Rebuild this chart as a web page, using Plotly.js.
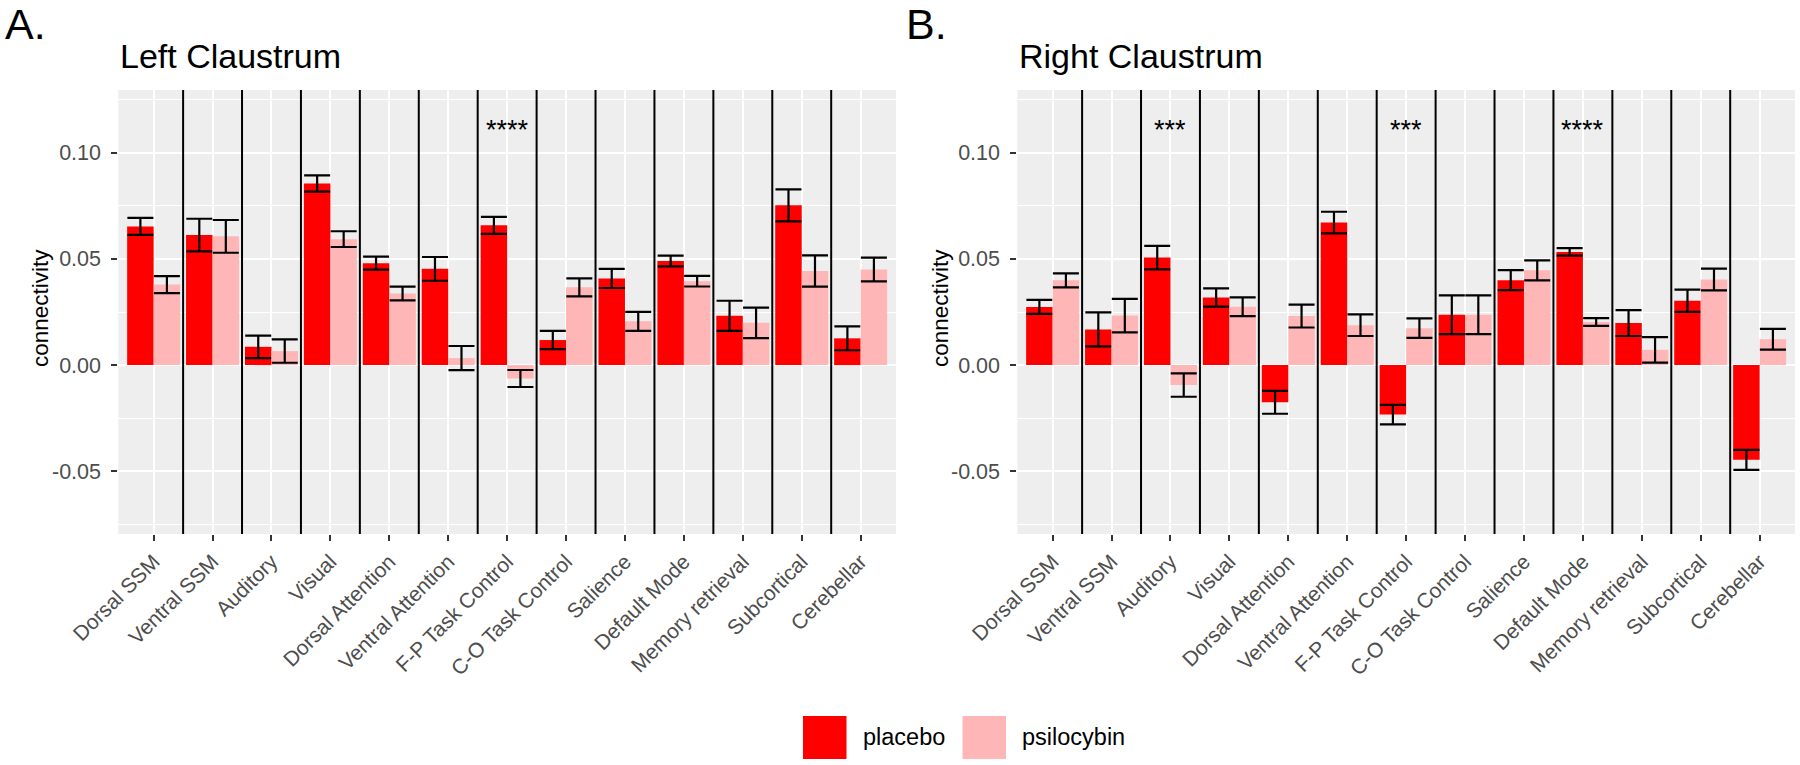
<!DOCTYPE html>
<html>
<head>
<meta charset="utf-8">
<script src="https://cdn.plot.ly/plotly-3.0.1.min.js"></script>
<style>html,body{margin:0;padding:0;background:#fff;}#chart{width:1800px;height:765px;}</style>
</head>
<body>
<div id="chart"></div>
<script>
// ---------- data ----------
const categories = ["Dorsal SSM","Ventral SSM","Auditory","Visual","Dorsal Attention","Ventral Attention","F-P Task Control","C-O Task Control","Salience","Default Mode","Memory retrieval","Subcortical","Cerebellar"];

const leftPlacebo      = [0.0653, 0.0612, 0.0086, 0.0855, 0.0480, 0.0453, 0.0658, 0.0118, 0.0408, 0.0490, 0.0232, 0.0752, 0.0126];
const leftPlaceboSE    = [0.0040, 0.0077, 0.0053, 0.0038, 0.0031, 0.0056, 0.0040, 0.0043, 0.0045, 0.0025, 0.0071, 0.0075, 0.0056];
const leftPsilocybin   = [0.0379, 0.0606, 0.0066, 0.0593, 0.0337, 0.0033, -0.0063, 0.0366, 0.0206, 0.0395, 0.0199, 0.0443, 0.0450];
const leftPsilocybinSE = [0.0040, 0.0077, 0.0055, 0.0037, 0.0032, 0.0057, 0.0040, 0.0042, 0.0045, 0.0025, 0.0072, 0.0074, 0.0056];

const rightPlacebo      = [0.0274, 0.0168, 0.0506, 0.0318, -0.0175, 0.0671, -0.0233, 0.0237, 0.0400, 0.0533, 0.0198, 0.0303, -0.0446];
const rightPlaceboSE    = [0.0033, 0.0080, 0.0055, 0.0043, 0.0054, 0.0051, 0.0046, 0.0091, 0.0047, 0.0018, 0.0061, 0.0052, 0.0047];
const rightPsilocybin   = [0.0399, 0.0233, -0.0094, 0.0275, 0.0231, 0.0188, 0.0174, 0.0237, 0.0446, 0.0203, 0.0072, 0.0403, 0.0122];
const rightPsilocybinSE = [0.0033, 0.0079, 0.0055, 0.0044, 0.0054, 0.0051, 0.0046, 0.0091, 0.0047, 0.0018, 0.0060, 0.0051, 0.0049];

const leftStars  = ["","","","","","","****","","","","","",""];
const rightStars = ["","","***","","","","***","","","****","","",""];

const groupNames = ["placebo","psilocybin"];
const yTickVals  = [-0.05, 0, 0.05, 0.10];
const yTickText  = ["-0.05","0.00","0.05","0.10"];
const yMinorVals = [-0.075, -0.025, 0.025, 0.075, 0.125];
const yTitle = "connectivity";

// ---------- style ----------
const FONT = "Liberation Sans, Arial, Helvetica, sans-serif";
const colors = {placebo: "#FF0000", psilocybin: "#FFB6B6"};
const W = 1800, H = 765, MT = 90, MB = 231;
const plotBottom = H - MB, plotH = H - MT - MB;
const py = p => (plotBottom - p) / plotH;   // pixel y -> paper y
const px = p => p / W;                       // pixel x -> paper x

function barTrace(name, vals, se, xa, ya) {
  return {
    type: "bar", name: name, x: categories, y: vals,
    xaxis: xa, yaxis: ya, offsetgroup: name, showlegend: false,
    marker: {color: colors[name], line: {width: 0}},
    error_y: {type: "data", array: se, visible: true, color: "#000", thickness: 2.2, width: 13}
  };
}

const data = [
  barTrace("placebo", leftPlacebo, leftPlaceboSE, "x", "y"),
  barTrace("psilocybin", leftPsilocybin, leftPsilocybinSE, "x", "y"),
  barTrace("placebo", rightPlacebo, rightPlaceboSE, "x2", "y2"),
  barTrace("psilocybin", rightPsilocybin, rightPsilocybinSE, "x2", "y2")
];

function xAxis(domain, anchor) {
  return {
    domain: domain, anchor: anchor, type: "category", range: [-0.6, categories.length - 0.4],
    tickangle: -45, ticks: "outside", ticklen: 6, tickwidth: 2, tickcolor: "#333333",
    tickfont: {family: FONT, size: 21, color: "#4D4D4D"},
    showgrid: true, gridcolor: "#FFFFFF", gridwidth: 2,
    zeroline: false, showline: false, fixedrange: true
  };
}
function yAxis(anchor) {
  return {
    domain: [0, 1], anchor: anchor, range: [-0.0795, 0.1295],
    tickmode: "array", tickvals: yTickVals, ticktext: yTickText,
    ticks: "outside", ticklen: 6, tickwidth: 2, tickcolor: "#333333",
    ticklabelstandoff: 6,
    tickfont: {family: FONT, size: 21.5, color: "#4D4D4D"},
    showgrid: true, gridcolor: "#FFFFFF", gridwidth: 2,
    minor: {tickmode: "array", tickvals: yMinorVals, showgrid: true, gridcolor: "#FFFFFF", gridwidth: 1, ticks: ""},
    zeroline: false, showline: false, fixedrange: true
  };
}

// separator lines between categories
const shapes = [];
[["x","y"],["x2","y2"]].forEach(([xa, ya]) => {
  for (let i = 0; i < categories.length - 1; i++) {
    shapes.push({type: "line", xref: xa, yref: ya + " domain", x0: i + 0.5, x1: i + 0.5, y0: 0, y1: 1,
                 line: {color: "#000", width: 2}, layer: "above"});
  }
});

const annotations = [];
// significance stars
[[leftStars, "x", "y"], [rightStars, "x2", "y2"]].forEach(([stars, xa, ya]) => {
  stars.forEach((s, i) => {
    if (s) annotations.push({xref: xa, yref: ya, x: categories[i], y: 0.1105, text: s, showarrow: false,
      xanchor: "center", yanchor: "middle", font: {family: FONT, size: 27, color: "#000"}});
  });
});
// y-axis titles (rotated)
[40, 940].forEach(xp => {
  annotations.push({xref: "paper", yref: "paper", x: px(xp), y: py(308), xanchor: "center", yanchor: "middle",
    textangle: -90, text: yTitle, showarrow: false, font: {family: FONT, size: 22.5, color: "#000"}});
});
// panel letters and titles
annotations.push({xref: "paper", yref: "paper", x: px(3), y: py(24), xanchor: "left", yanchor: "middle",
  text: "A.", showarrow: false, font: {family: FONT, size: 43, color: "#000"}});
annotations.push({xref: "paper", yref: "paper", x: px(904), y: py(24), xanchor: "left", yanchor: "middle",
  text: "B.", showarrow: false, font: {family: FONT, size: 43, color: "#000"}});
annotations.push({xref: "paper", yref: "paper", x: px(118), y: py(56), xanchor: "left", yanchor: "middle",
  text: "Left Claustrum", showarrow: false, font: {family: FONT, size: 34, color: "#000"}});
annotations.push({xref: "paper", yref: "paper", x: px(1017), y: py(56), xanchor: "left", yanchor: "middle",
  text: "Right Claustrum", showarrow: false, font: {family: FONT, size: 34, color: "#000"}});

// manual legend
const legendItems = [{name: groupNames[0], sx: 803, tx: 861}, {name: groupNames[1], sx: 962.5, tx: 1020}];
legendItems.forEach(it => {
  shapes.push({type: "rect", xref: "paper", yref: "paper", x0: px(it.sx), x1: px(it.sx + 43.5),
    y0: py(759), y1: py(716), fillcolor: colors[it.name], line: {width: 0}});
  annotations.push({xref: "paper", yref: "paper", x: px(it.tx), y: py(737), xanchor: "left", yanchor: "middle",
    text: it.name, showarrow: false, font: {family: FONT, size: 23.5, color: "#000"}});
});

const layout = {
  width: W, height: H,
  margin: {l: 0, r: 0, t: MT, b: MB, pad: 0},
  paper_bgcolor: "#FFFFFF", plot_bgcolor: "#EEEEEE",
  font: {family: FONT},
  barmode: "group", bargap: 0.1, bargroupgap: 0,
  showlegend: false,
  xaxis: xAxis([118.3 / W, 896 / W], "y"),
  yaxis: yAxis("x"),
  xaxis2: xAxis([1017.3 / W, 1795 / W], "y2"),
  yaxis2: yAxis("x2"),
  shapes: shapes,
  annotations: annotations
};

Plotly.newPlot("chart", data, layout, {displayModeBar: false, staticPlot: true});
</script>
</body>
</html>
